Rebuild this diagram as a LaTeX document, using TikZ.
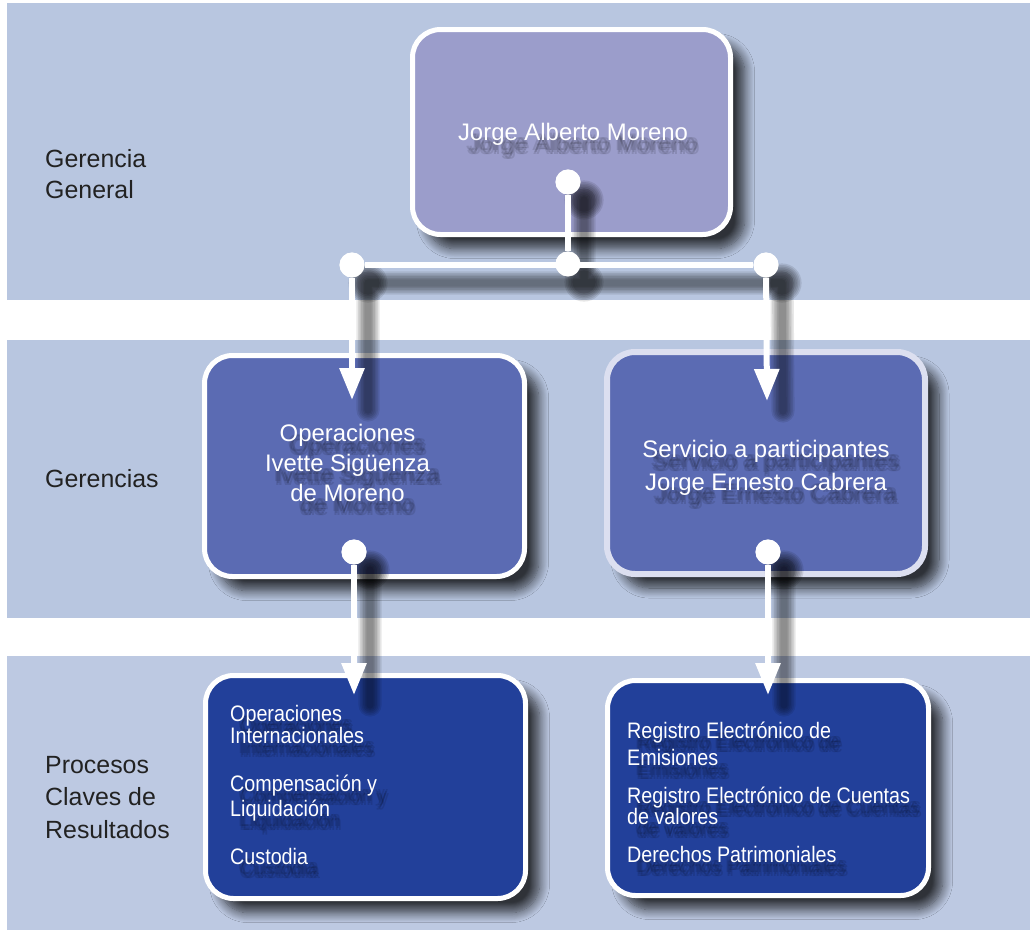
\documentclass[tikz,border=0pt]{standalone}
\usepackage{fontspec}
\setmainfont{Liberation Sans}
\newfontfamily\condfont{Liberation Sans}[FakeStretch=0.88]
\usetikzlibrary{arrows.meta,calc,shadows.blur}
\definecolor{band}{HTML}{B8C6E0}
\definecolor{bandb}{HTML}{BDC9E2}
\definecolor{topfill}{HTML}{9B9DCB}
\definecolor{midfill}{HTML}{5B6BB3}
\definecolor{botfill}{HTML}{22409A}
\definecolor{lavborder}{HTML}{DCDFF0}
\definecolor{lbltext}{HTML}{222222}
\tikzset{
  boxshape/.style={rectangle, rounded corners=28bp, draw=white, line width=5bp, inner sep=0pt,
    blur shadow={shadow xshift=14bp, shadow yshift=-14bp, shadow blur radius=10bp, shadow opacity=75, shadow blur steps=12}},
  dot/.style={circle, fill=white, inner sep=0pt, minimum size=25bp},
  conn/.style={draw=white, line width=6bp},
  arr/.style={conn, -{Triangle[width=24bp,length=32bp]}},
  boxtxt/.style={text=white, font=\fontsize{24}{29}\selectfont, inner sep=0pt, anchor=base},
  proctxt/.style={text=white, font=\condfont\fontsize{22.5}{24}\selectfont, inner sep=0pt, anchor=base west},
  lbl/.style={text=lbltext, font=\fontsize{25}{30}\selectfont, inner sep=0pt, anchor=base west},
}
% text with a soft drop shadow (several faint offset copies)
\newcommand\shtext[4]{%
  \foreach \dx/\dy [count=\k] in {8/10,10/12,12/14,11/10,9/14}{%
    \node[#3, text=black, text opacity=0.11] (#1s\k) at ($(#2)+(\dx,\dy)$) {#4};}
  \node[#3] (#1) at (#2) {#4};}
\begin{document}
\begin{tikzpicture}[x=1bp,y=-1bp]
\useasboundingbox (0,0) rectangle (1030,930);
\fill[white] (0,0) rectangle (1030,930);
% bands
\fill[band] (7,3) rectangle (1030,300);
\fill[band] (7,340) rectangle (1030,618);
\fill[bandb] (7,656) rectangle (1030,930);
% left labels
\node[lbl] (l1) at (45,167) {Gerencia};
\node[lbl] (l2) at (45,198) {General};
\node[lbl] (l3) at (45,487) {Gerencias};
\node[lbl] (l4) at (45,773) {Procesos};
\node[lbl] (l5) at (45,805) {Claves de};
\node[lbl] (l6) at (45,838) {Resultados};
% boxes
\node[boxshape, fill=topfill, minimum width=318bp, minimum height=205bp] (top) at (571.5,132) {};
\node[boxshape, fill=midfill, minimum width=320bp, minimum height=221bp] (ops) at (364.5,466) {};
\node[boxshape, fill=midfill, draw=lavborder, line width=6bp, minimum width=318bp, minimum height=222bp] (serv) at (766,463) {};
\node[boxshape, fill=botfill, minimum width=320bp, minimum height=223bp] (procl) at (365.5,787) {};
\node[boxshape, fill=botfill, minimum width=321bp, minimum height=215bp] (procr) at (768,788) {};
% connector points
\node[dot] (d0) at (568,182) {};
\node[dot] (j) at (568,264) {};
\node[dot] (dl) at (352,265) {};
\node[dot] (dr) at (766,265) {};
\node[dot] (ml) at (354,552) {};
\node[dot] (mr) at (768,552) {};
\coordinate (al) at (352,400);
\coordinate (ar) at (767,401);
\coordinate (bl) at (354,695);
\coordinate (br) at (768,695);
% connector shadows
\begin{scope}[transform canvas={shift={(16bp,-18bp)}}]
\foreach \k in {1,...,6}{
  \pgfmathsetmacro\lw{4+3.2*\k}
  \pgfmathsetmacro\rr{10+1.6*\k}
  \draw[black, opacity=0.09, line width=\lw bp, line cap=round]
    (d0.center) -- (j.center) (dl.center) -- (dr.center)
    (dl.center) -- ($(al)+(0,-8)$) (dr.center) -- ($(ar)+(0,-8)$)
    (ml.center) -- ($(bl)+(0,-8)$) (mr.center) -- ($(br)+(0,-8)$);
  \foreach \n in {d0,j,dl,dr,ml,mr}{
    \fill[black, opacity=0.1] (\n.center) circle[radius=\rr bp];}
}
\end{scope}
% connectors
\draw[conn] (d0) -- (j);
\draw[conn] (dl) -- (dr);
\draw[arr] (dl) -- (al);
\draw[arr] (dr) -- (ar);
\draw[arr] (ml) -- (bl);
\draw[arr] (mr) -- (br);
\node[dot] (d0b) at (d0) {};
\node[dot] (jb) at (j) {};
\node[dot] (dlb) at (dl) {};
\node[dot] (drb) at (dr) {};
\node[dot] (mlb) at (ml) {};
\node[dot] (mrb) at (mr) {};
% box texts
\shtext{t1}{573,140}{boxtxt}{Jorge Alberto Moreno}
\shtext{t2}{347.5,441}{boxtxt}{Operaciones}
\shtext{t3}{347.5,471}{boxtxt}{Ivette Sigüenza}
\shtext{t4}{347.5,501}{boxtxt}{de Moreno}
\shtext{t5}{766,457}{boxtxt}{Servicio a participantes}
\shtext{t6}{766,490}{boxtxt}{Jorge Ernesto Cabrera}
\shtext{p1}{230,721}{proctxt}{Operaciones}
\shtext{p2}{230,743}{proctxt}{Internacionales}
\shtext{p3}{230,791}{proctxt}{Compensación y}
\shtext{p4}{230,816}{proctxt}{Liquidación}
\shtext{p5}{230,864}{proctxt}{Custodia}
\shtext{q1}{627,738}{proctxt}{Registro Electrónico de}
\shtext{q2}{627,765}{proctxt}{Emisiones}
\shtext{q3}{627,803}{proctxt}{Registro Electrónico de Cuentas}
\shtext{q4}{627,824}{proctxt}{de valores}
\shtext{q5}{627,862}{proctxt}{Derechos Patrimoniales}
\end{tikzpicture}
\end{document}
